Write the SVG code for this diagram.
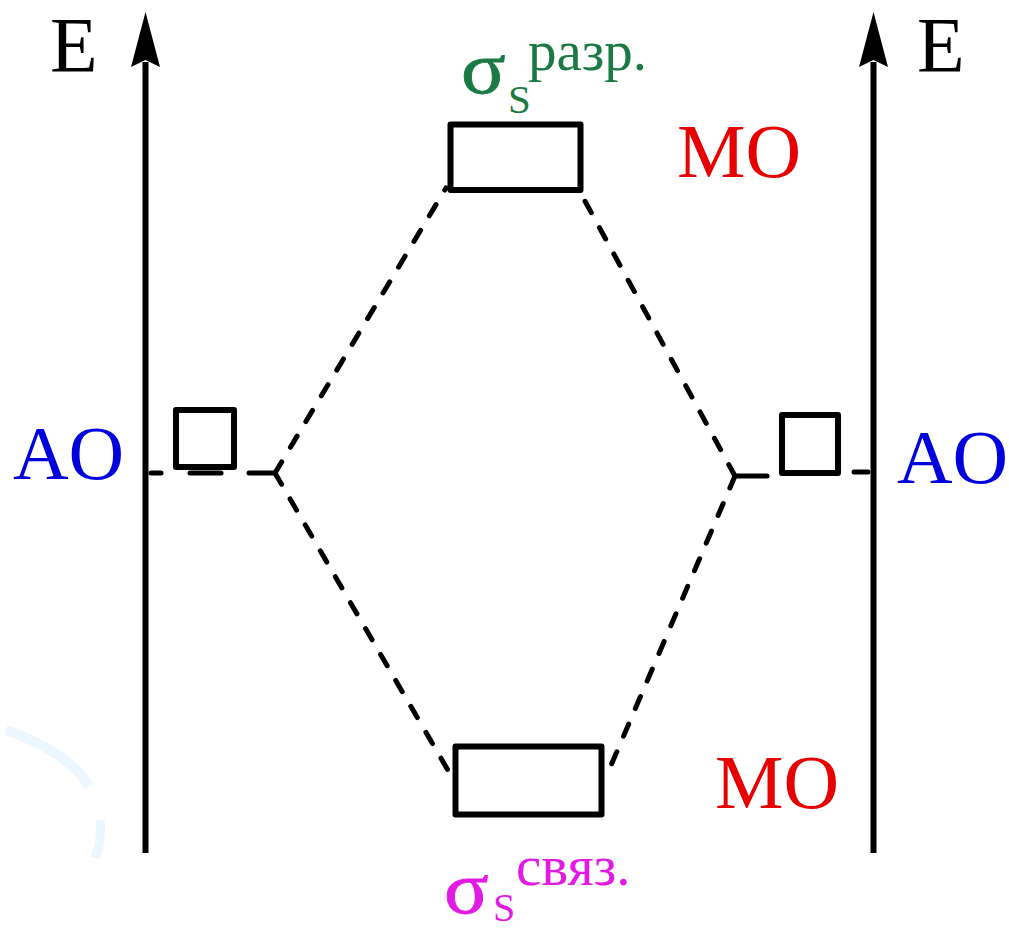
<svg xmlns="http://www.w3.org/2000/svg" width="1009" height="931" viewBox="0 0 1009 931">
<style>
.box{fill:#fff;stroke:#000;stroke-width:6;stroke-linejoin:round}
.dash{fill:none;stroke:#000;stroke-width:5;stroke-linecap:round;stroke-dasharray:13 17}
.seg{fill:none;stroke:#000;stroke-width:5;stroke-linecap:round}
.axis{fill:none;stroke:#000;stroke-width:6}
.t{font-family:"Liberation Serif","Times New Roman",serif}
.big{font-size:77px}
.ao{fill:#0000dd}
.mo{fill:#e60000}
.gr{fill:#1b7a44}
.mg{fill:#e31ae3}
.sig{font-size:74px;stroke-width:0.8px}
</style>
<path d="M6,730 Q68,752 89,786" fill="none" stroke="#ebf6fe" stroke-width="10"/>
<path d="M100,820 Q102,842 95,858" fill="none" stroke="#ebf6fe" stroke-width="9"/>
<g id="axes">
<line class="axis" x1="145.5" y1="853" x2="145.5" y2="62"/>
<path d="M145.5,12 L160,67 L145.5,60 L131,67 Z" fill="#000"/>
<line class="axis" x1="873.5" y1="853" x2="873.5" y2="62"/>
<path d="M873.5,12 L888,67 L873.5,60 L859,67 Z" fill="#000"/>
<text class="t" x="50" y="71" font-size="78">E</text>
<text class="t" x="917" y="71" font-size="78">E</text>
</g>
<g id="connectors">
<line class="dash" x1="275" y1="473" x2="446" y2="188"/>
<line class="dash" x1="275" y1="473" x2="449" y2="772"/>
<line class="dash" x1="735" y1="476" x2="580" y2="192"/>
<line class="dash" x1="735" y1="476" x2="609" y2="770"/>
<line class="seg" x1="151" y1="473" x2="161" y2="473"/>
<line class="seg" x1="190" y1="473" x2="221" y2="473"/>
<line class="seg" x1="249" y1="473" x2="275" y2="473"/>
<line class="seg" x1="735" y1="476" x2="767" y2="476"/>
<line class="seg" x1="854" y1="472" x2="868" y2="472"/>
</g>
<g id="ao-left">
<rect class="box" x="176" y="410" width="58" height="57"/>
<text class="t big ao" x="13" y="479">AO</text>
</g>
<g id="ao-right">
<rect class="box" x="782" y="415" width="56" height="58"/>
<text class="t big ao" x="897" y="483">AO</text>
</g>
<g id="mo-antibonding">
<rect class="box" x="450.5" y="124.5" width="130" height="65.5"/>
<text class="t big mo" x="677" y="177">MO</text>
<text class="t gr sig" stroke="#1b7a44" transform="translate(461,93) scale(1.12,1)">σ</text>
<text class="t gr" x="508" y="113" font-size="41">S</text>
<text class="t gr" x="528" y="70" font-size="57">разр.</text>
</g>
<g id="mo-bonding">
<rect class="box" x="455.5" y="746.5" width="146" height="68"/>
<text class="t big mo" x="715" y="808">MO</text>
<text class="t mg sig" stroke="#e31ae3" transform="translate(444,913) scale(1.12,1)">σ</text>
<text class="t mg" x="493" y="921" font-size="40">S</text>
<text class="t mg" x="516" y="885" font-size="57">связ.</text>
</g>
</svg>
